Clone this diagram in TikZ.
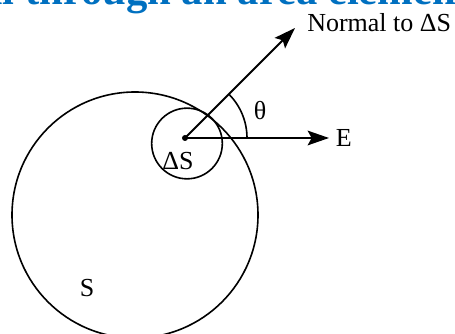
\documentclass[tikz,border=0pt]{standalone}
\usepackage{fontspec}
\setmainfont{Liberation Serif}
\usepackage{xcolor}
\usetikzlibrary{calc, arrows.meta, positioning}
\definecolor{titleblue}{HTML}{0070C0}
\tikzset{
  surface/.style={circle, draw=black, line width=1.2pt, inner sep=0pt},
  fieldarrow/.style={-{Stealth[length=16pt, width=11pt, inset=3pt]}, line width=1.5pt},
  lbl/.style={font=\fontsize{19.5}{23}\selectfont, inner sep=0pt},
}

\begin{document}
\begin{tikzpicture}[x=0.75pt, y=-0.75pt]
  \useasboundingbox (0,0) rectangle (455,334);
  \clip (0,0) rectangle (455,334);

  % --- Title (cut at the top) ---
  \node[anchor=base west, inner sep=0pt, text=titleblue,
        font=\fontsize{32}{36}\selectfont\bfseries]
        (title) at (-19,5) {al through an area element};

  % --- Surfaces ---
  \node[surface, minimum size=184.5pt] (S)  at (135,215) {};
  \node[surface, minimum size=53pt]    (dS) at (187,143.5) {};
  \node[circle, fill, inner sep=0pt, minimum size=4.5pt] (o) at (185,138) {};

  % --- Normal and field ---
  \coordinate (ntip) at (295,28);
  \node[lbl, anchor=base west] (normal) at (307,32) {Normal to ΔS};
  \node[lbl, anchor=west, inner xsep=5pt] (E) at (329,138) {E};

  \draw[fieldarrow] (o.center) -- (ntip);
  \draw[fieldarrow] (o.center) -- (E.west);

  % --- Angle ---
  \draw[line width=1.2pt] ($(o.center)+(62,0)$) arc[start angle=0, end angle=45, radius=46.5pt];
  \node[lbl] (theta) at (260,111) {θ};

  % --- Labels ---
  \node[lbl] (dSlabel) at (178,161) {ΔS};
  \node[lbl] (Slabel)  at (87,288) {S};
\end{tikzpicture}
\end{document}
